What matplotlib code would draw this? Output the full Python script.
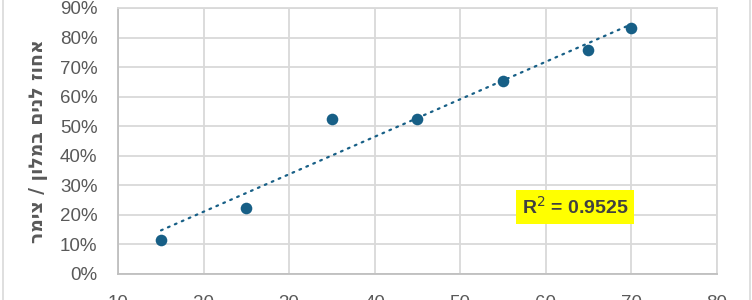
import matplotlib
matplotlib.use('Agg')
import matplotlib.pyplot as plt
import numpy as np
from matplotlib.patches import Rectangle
from matplotlib.ticker import FuncFormatter

# data
x_vals = [15, 25, 35, 45, 55, 65, 70]
y_vals = [11.5, 22.2, 52.5, 52.5, 65.4, 75.9, 83.1]
r2_text = r'R$^2$ = 0.9525'
ylabel = 'אחוז לנים במלון / צימר'

dot_color = '#175f86'
grid_color = '#d9d9d9'
text_color = '#595959'

plt.rcParams['font.family'] = ['Liberation Sans', 'DejaVu Sans']

fig = plt.figure(figsize=(7.52, 3.0), dpi=100)
ax = fig.add_axes([118.3 / 752, 1 - 274 / 300, (716.5 - 118.3) / 752, (274 - 8) / 300])

# outer chart border (partly cropped in the reference)
fig.patches.append(Rectangle((2.5 / 752, -0.2), (750 - 2.5) / 752, 1.5, transform=fig.transFigure,
                             fill=False, edgecolor='#d9d9d9', linewidth=1.2))

ax.scatter(x_vals, y_vals, s=70, color=dot_color, zorder=3, linewidths=0)

# linear trend line
coef = np.polyfit(x_vals, y_vals, 1)
xt = np.array([min(x_vals), max(x_vals)])
ax.plot(xt, np.polyval(coef, xt), color=dot_color, linewidth=1.6,
        linestyle=(0, (0.8, 2.6)), dash_capstyle='round', zorder=2)

ax.set_xlim(10, 80)
ax.set_ylim(0, 90)
ax.set_xticks(np.arange(10, 81, 10))
ax.set_yticks(np.arange(0, 91, 10))
ax.yaxis.set_major_formatter(FuncFormatter(lambda v, p: '{:.0f}%'.format(v)))
ax.grid(True, color=grid_color, linewidth=1.3)
ax.set_axisbelow(True)
for s in ax.spines.values():
    s.set_color(grid_color)
    s.set_linewidth(1.3)
ax.spines['left'].set_color('#bfbfbf')
ax.spines['bottom'].set_color('#bfbfbf')

ax.tick_params(axis='both', length=0, labelsize=13.5, labelcolor=text_color)
ax.tick_params(axis='x', pad=15)
ax.tick_params(axis='y', pad=15)

ax.set_ylabel(ylabel[::-1], fontsize=13.5, fontweight='bold', color=text_color,
              family=['DejaVu Sans'])
ax.yaxis.set_label_coords(-0.118, 0.5)

ax.text(63.45, 22.7, r2_text, fontsize=14, fontweight='bold', color='#404040',
        ha='center', va='center', zorder=5,
        bbox=dict(boxstyle='square,pad=0.3', facecolor='#ffff00', edgecolor='none'))

fig.savefig('out.png', dpi=100)
